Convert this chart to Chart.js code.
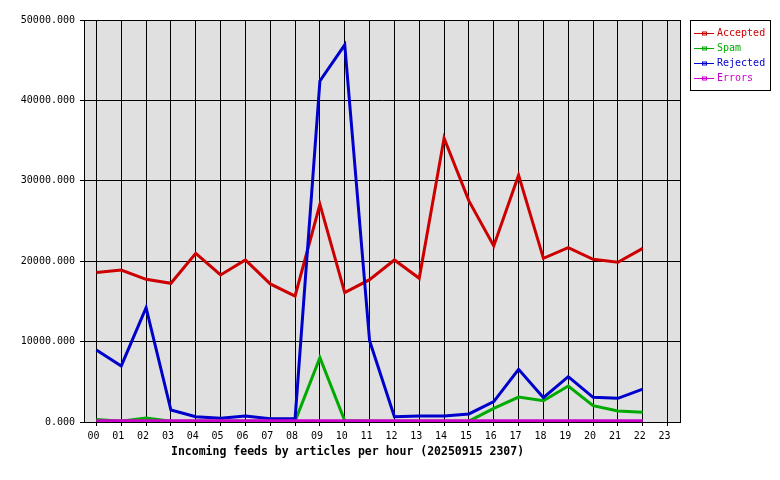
<!DOCTYPE html>
<html>
<head>
<meta charset="utf-8">
<title>Incoming feeds by articles per hour</title>
<script src="https://cdn.jsdelivr.net/npm/chart.js@4.4.1/dist/chart.umd.min.js"></script>
<style>
  html, body { margin: 0; padding: 0; background: #fff; }
  canvas { display: block; }
</style>
</head>
<body>
<canvas id="graficoFeeds" width="780" height="480"></canvas>
<script>
// ======================================================
// 1. DADOS
// ======================================================

const horas = ['00', '01', '02', '03', '04', '05', '06', '07', '08', '09', '10', '11',
               '12', '13', '14', '15', '16', '17', '18', '19', '20', '21', '22', '23'];

const nomesSeries = ['Accepted', 'Spam', 'Rejected', 'Errors'];
const coresSeries = ['#cc0000', '#00aa00', '#0000cc', '#cc00cc'];

const accepted = [18600, 18900, 17750, 17250, 20980, 18290, 20150, 17170, 15670, 27080, 16090, 17700,
                  20150, 17870, 35290, 27500, 21900, 30700, 20360, 21690, 20240, 19870, 21600];
const spam     = [300, 100, 500, 100, 100, 100, 100, 100, 100, 8000, 150, 100,
                  100, 100, 100, 100, 1700, 3100, 2650, 4480, 2030, 1370, 1200];
const rejected = [8960, 6970, 14220, 1490, 660, 460, 750, 410, 410, 42420, 46900, 10100,
                  660, 750, 750, 1000, 2530, 6550, 3030, 5640, 3070, 2940, 4100];
const errors   = [150, 150, 150, 150, 150, 150, 150, 150, 150, 150, 150, 150,
                  150, 150, 150, 150, 150, 150, 150, 150, 150, 150, 150];

const ticksY = [0, 10000, 20000, 30000, 40000, 50000];

const tituloX = 'Incoming feeds by articles per hour (20250915 2307)';

// ======================================================
// 2. PLUGINS (fundo, moldura, legenda, título)
// ======================================================

const fundoCinza = {
  id: 'fundoCinza',
  beforeDraw(chart) {
    const { ctx, chartArea: a } = chart;
    ctx.save();
    ctx.fillStyle = '#e0e0e0';
    ctx.fillRect(a.left, a.top, a.right - a.left, a.bottom - a.top);
    ctx.restore();
  },
  beforeDatasetsDraw(chart) {
    const { ctx, chartArea: a } = chart;
    ctx.save();
    ctx.strokeStyle = '#000';
    ctx.lineWidth = 1;
    ctx.strokeRect(Math.round(a.left) + 0.5, Math.round(a.top) + 0.5,
                   Math.round(a.right - a.left), Math.round(a.bottom - a.top));
    ctx.restore();
  }
};

const legendaCaixa = {
  id: 'legendaCaixa',
  afterDraw(chart) {
    const ctx = chart.ctx;
    ctx.save();
    ctx.fillStyle = '#fff';
    ctx.fillRect(690.5, 20.5, 80, 70);
    ctx.strokeStyle = '#000';
    ctx.lineWidth = 1;
    ctx.strokeRect(690.5, 20.5, 80, 70);
    ctx.font = '10px "DejaVu Sans Mono", monospace';
    ctx.textBaseline = 'middle';
    nomesSeries.forEach((nome, i) => {
      const y = 33.5 + i * 15;
      ctx.strokeStyle = coresSeries[i];
      ctx.beginPath();
      ctx.moveTo(694, y);
      ctx.lineTo(714, y);
      ctx.stroke();
      ctx.strokeRect(702.5, y - 1.5, 4, 3);
      ctx.fillStyle = coresSeries[i];
      ctx.fillText(nome, 717, y);
    });
    ctx.restore();
  }
};

const tituloBaixo = {
  id: 'tituloBaixo',
  afterDraw(chart) {
    const ctx = chart.ctx;
    ctx.save();
    ctx.fillStyle = '#000';
    ctx.font = 'bold 11.5px "DejaVu Sans Mono", monospace';
    ctx.textBaseline = 'middle';
    ctx.fillText(tituloX, 171, 452);
    ctx.restore();
  }
};

// ======================================================
// 3. GRÁFICO
// ======================================================

const listaDados = [accepted, spam, rejected, errors];

new Chart(document.getElementById('graficoFeeds'), {
  type: 'line',
  data: {
    labels: horas,
    datasets: nomesSeries.map((nome, i) => ({
      label: nome,
      data: listaDados[i],
      borderColor: coresSeries[i],
      backgroundColor: coresSeries[i],
      borderWidth: 3,
      pointRadius: 0,
      tension: 0,
      fill: false,
      order: 3 - i // Errors por cima, como no original
    }))
  },
  options: {
    responsive: false,
    animation: false,
    layout: { padding: { top: 20, right: 100, left: 0, bottom: 0 } },
    plugins: {
      legend: { display: false },
      title: { display: false },
      tooltip: { enabled: false }
    },
    scales: {
      x: {
        type: 'category',
        offset: true,
        afterFit: (s) => { s.height = 58; },
        grid: { offset: false, color: '#000', lineWidth: 1, tickLength: 4, drawTicks: true },
        border: { display: true, color: '#000' },
        ticks: {
          color: '#000',
          font: { family: 'DejaVu Sans Mono', size: 10 },
          padding: 4,
          labelOffset: -3,
          maxRotation: 0,
          autoSkip: false
        }
      },
      y: {
        min: ticksY[0],
        max: ticksY[ticksY.length - 1],
        afterFit: (s) => { s.width = 84; },
        afterBuildTicks: (s) => { s.ticks = ticksY.map(v => ({ value: v })); },
        grid: { color: '#000', lineWidth: 1, tickLength: 4 },
        border: { display: true, color: '#000' },
        ticks: {
          color: '#000',
          font: { family: 'DejaVu Sans Mono', size: 10 },
          padding: 5,
          callback: (v) => Number(v).toFixed(3)
        }
      }
    }
  },
  plugins: [fundoCinza, legendaCaixa, tituloBaixo]
});
</script>
</body>
</html>
